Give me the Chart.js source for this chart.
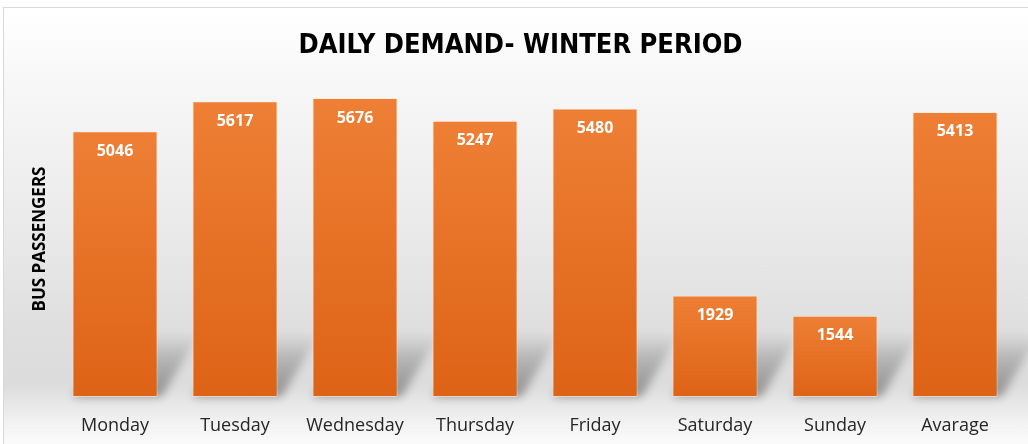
<!DOCTYPE html>
<html>
<head>
<meta charset="utf-8">
<script src="https://cdn.jsdelivr.net/npm/chart.js@4"></script>
<style>
  body { margin: 0; background: #fff; }
  #box {
    position: absolute; left: 3px; top: 7px; width: 1025px; height: 437px;
    border-left: 1px solid #d9d9d9; border-top: 1px solid #d9d9d9;
    background: linear-gradient(to bottom, #ffffff 0%, #f6f6f6 20%, #eaeaea 50%, #dedede 75%, #dcdcdc 86%, #f2f2f2 95%, #fbfbfb 100%);
  }
  canvas { display: block; }
</style>
</head>
<body>
<div id="box"><canvas id="demand" width="1024" height="436"></canvas></div>
<script>
// data
const days = ['Monday', 'Tuesday', 'Wednesday', 'Thursday', 'Friday', 'Saturday', 'Sunday', 'Avarage'];
const passengers = [5046, 5617, 5676, 5247, 5480, 1929, 1544, 5413];

// shadow on the "floor" behind each bar
const floorShadow = {
    id: 'floorShadow',
    beforeDatasetsDraw(chart) {
        const ctx = chart.ctx;
        const bars = chart.getDatasetMeta(0).data;
        ctx.save();
        ctx.filter = 'blur(4px)';
        bars.forEach(bar => {
            const left = bar.x - bar.width / 2;
            const right = bar.x + bar.width / 2;
            const h = Math.min(64, bar.base - bar.y);
            const g = ctx.createLinearGradient(0, bar.base, 0, bar.base - h);
            g.addColorStop(0, 'rgba(0,0,0,0.34)');
            g.addColorStop(0.6, 'rgba(0,0,0,0.18)');
            g.addColorStop(1, 'rgba(0,0,0,0.0)');
            ctx.fillStyle = g;
            ctx.beginPath();
            ctx.moveTo(left, bar.base);
            ctx.lineTo(right + 4, bar.base);
            ctx.lineTo(right + 42, bar.base - h);
            ctx.lineTo(left + 42, bar.base - h);
            ctx.closePath();
            ctx.fill();
        });
        ctx.restore();
    }
};

// white value labels inside the top of each bar
const valueLabels = {
    id: 'valueLabels',
    afterDatasetsDraw(chart) {
        const ctx = chart.ctx;
        const bars = chart.getDatasetMeta(0).data;
        ctx.save();
        ctx.fillStyle = '#ffffff';
        ctx.font = 'bold 16px "Open Sans", "Noto Sans", sans-serif';
        ctx.textAlign = 'center';
        ctx.textBaseline = 'middle';
        bars.forEach((bar, i) => {
            ctx.fillText(passengers[i], bar.x, bar.y + 20);
        });
        ctx.restore();
    }
};

function barFill(context) {
    const chart = context.chart;
    const y = chart.scales.y;
    if (!chart.chartArea || !y) return '#e57028';
    const top = y.getPixelForValue(context.raw);
    const base = y.getPixelForValue(0);
    const g = chart.ctx.createLinearGradient(0, top, 0, base);
    g.addColorStop(0, '#ee7f35');
    g.addColorStop(1, '#dd6316');
    return g;
}

new Chart(document.getElementById('demand').getContext('2d'), {
    type: 'bar',
    data: {
        labels: days,
        datasets: [{
            label: 'Bus passengers',
            data: passengers,
            backgroundColor: barFill,
            borderColor: 'rgba(255,230,210,0.55)',
            borderWidth: 1,
            borderSkipped: false,
            barPercentage: 0.71,
            categoryPercentage: 1
        }]
    },
    options: {
        responsive: false,
        animation: false,
        layout: { padding: { left: 22, right: 13, top: 0, bottom: 3 } },
        plugins: {
            legend: { display: false },
            tooltip: { enabled: false },
            title: {
                display: true,
                text: 'DAILY DEMAND- WINTER PERIOD',
                color: '#000000',
                font: { family: '"Liberation Sans Narrow", "DejaVu Sans Condensed", sans-serif', size: 27, weight: 'bold' },
                padding: { top: 22, bottom: 18.6 }
            }
        },
        scales: {
            x: {
                grid: { display: false },
                border: { display: false },
                ticks: {
                    color: '#262626',
                    font: { family: '"Open Sans", "Noto Sans", sans-serif', size: 18 },
                    padding: 10
                },
                afterFit(scale) { scale.height = 44; }
            },
            y: {
                min: 0,
                max: 6000,
                grid: { display: false },
                border: { display: false },
                ticks: { display: false },
                title: {
                    display: true,
                    text: 'BUS PASSENGERS',
                    color: '#000000',
                    font: { family: '"Open Sans", "Noto Sans", sans-serif', size: 17, weight: 'bold' },
                    padding: { top: 4, bottom: 4 }
                },
                afterFit(scale) { scale.width = 29; }
            }
        }
    },
    plugins: [floorShadow, valueLabels]
});
</script>
</body>
</html>
